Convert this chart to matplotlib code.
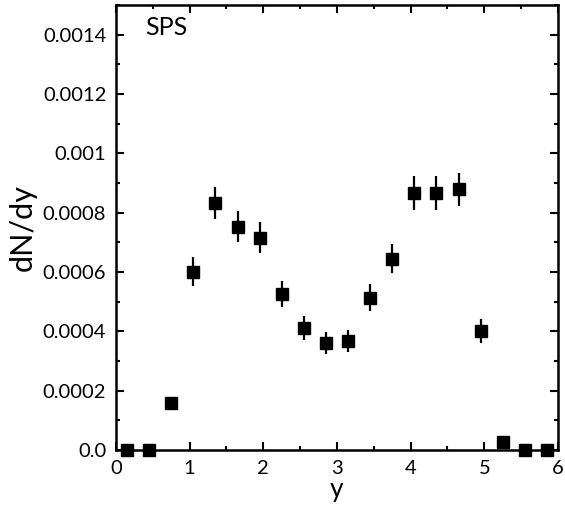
import matplotlib
matplotlib.use("Agg")
import matplotlib.pyplot as plt
import numpy as np
from matplotlib.ticker import MultipleLocator, FixedLocator

plt.rcParams["font.family"] = ["Lato", "DejaVu Sans"]

# rapidity bins and dN/dy values
y_vals = [0.15, 0.45, 0.75, 1.05, 1.35, 1.65, 1.95, 2.25, 2.55, 2.85,
          3.15, 3.45, 3.75, 4.05, 4.35, 4.65, 4.95, 5.25, 5.55, 5.85]
dndy = [0.0, 0.0, 0.000157, 0.000601, 0.000832, 0.000753, 0.000716,
        0.000526, 0.000412, 0.000360, 0.000368, 0.000514, 0.000644,
        0.000866, 0.000866, 0.000879, 0.000401, 0.000026, 0.0, 0.0]
dndy_err = [0.0, 0.0, 0.000022, 0.000049, 0.000055, 0.000052, 0.000052,
            0.000043, 0.000040, 0.000037, 0.000038, 0.000044, 0.000049,
            0.000057, 0.000057, 0.000056, 0.000040, 0.0, 0.0, 0.0]

y_ticks = [0.0, 0.0002, 0.0004, 0.0006, 0.0008, 0.001, 0.0012, 0.0014]
y_ticklabels = ["0.0", "0.0002", "0.0004", "0.0006", "0.0008", "0.001",
                "0.0012", "0.0014"]

fig = plt.figure(figsize=(5.65, 5.11), dpi=100)
ax = fig.add_axes([0.2053, 0.1194, 0.7823, 0.8708])

ax.errorbar(y_vals, dndy, yerr=dndy_err, fmt="s", color="black",
            markersize=8, elinewidth=1.6, capsize=0, clip_on=False, zorder=3)

ax.set_xlim(0, 6)
ax.set_ylim(0, 0.0015)
ax.xaxis.set_major_locator(MultipleLocator(1))
ax.xaxis.set_minor_locator(MultipleLocator(0.5))
ax.yaxis.set_major_locator(FixedLocator(y_ticks))
ax.set_yticklabels(y_ticklabels)
ax.yaxis.set_minor_locator(MultipleLocator(0.0001))

ax.tick_params(which="both", direction="in", top=True, right=True,
               labelsize=14.5, width=1.5)
ax.tick_params(which="major", length=6)
ax.tick_params(which="minor", length=3)
ax.tick_params(axis="y", pad=7)
ax.tick_params(axis="x", pad=7)
for s in ax.spines.values():
    s.set_linewidth(1.8)

ax.set_xlabel("y", fontsize=19, labelpad=0)
ax.set_ylabel("dN/dy", fontsize=22, labelpad=4)
ax.text(0.066, 0.975, "SPS", transform=ax.transAxes, fontsize=18,
        va="top", ha="left")

fig.savefig("out.png", dpi=100)
